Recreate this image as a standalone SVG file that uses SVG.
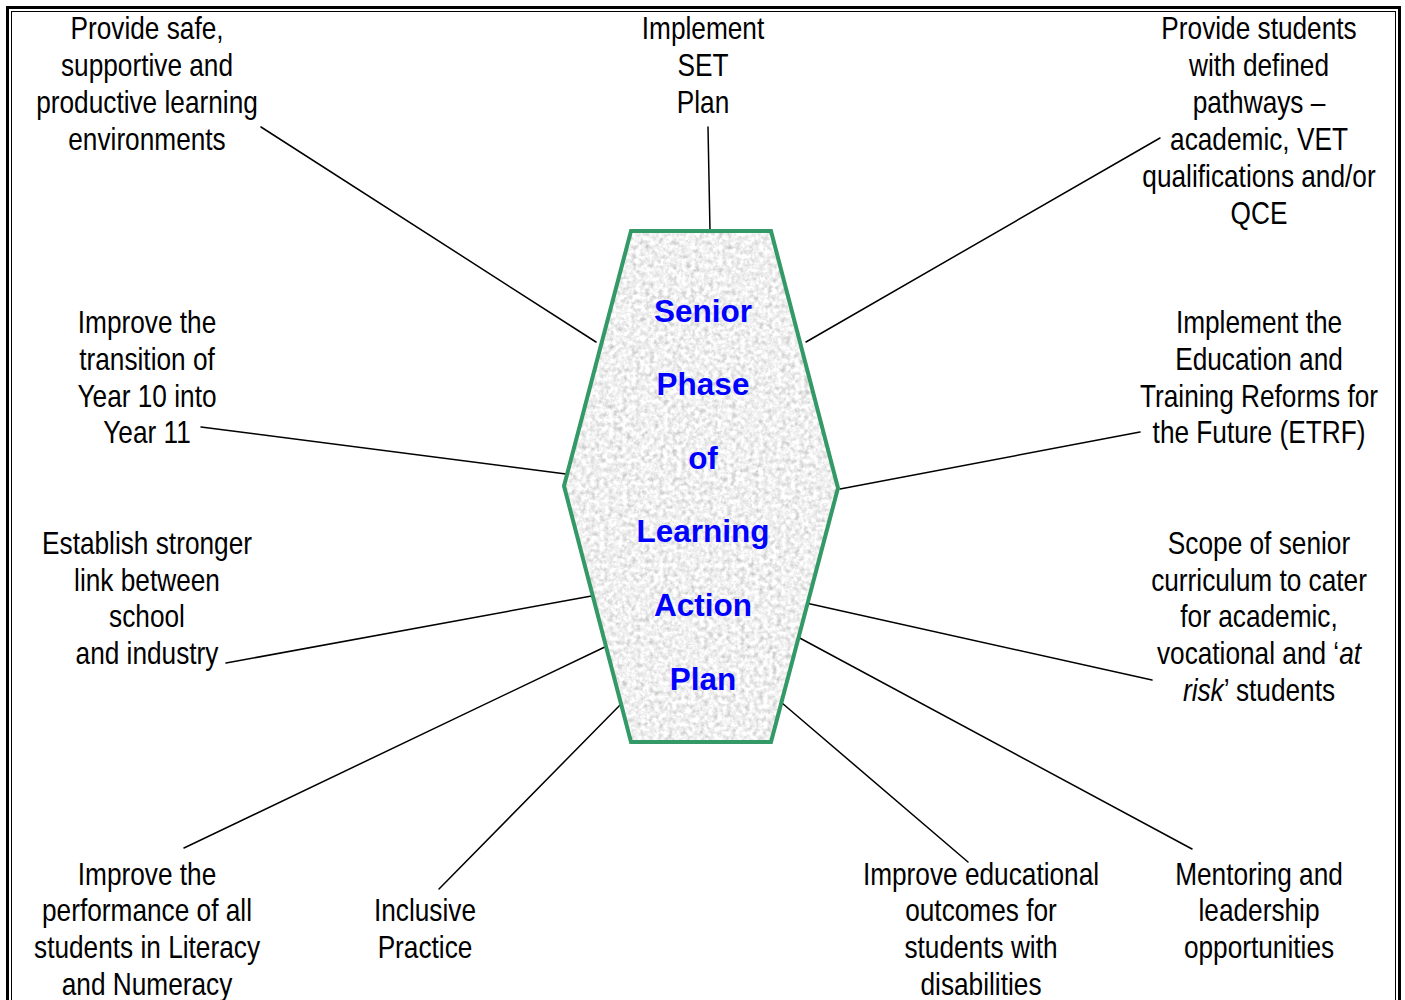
<svg xmlns="http://www.w3.org/2000/svg" width="1405" height="1000" viewBox="0 0 1405 1000">
  <style>
    .lbl { font-family: "Liberation Sans", Arial, sans-serif; font-size: 32px; fill: #000; text-anchor: middle; }
    .hub { font-family: "Liberation Sans", Arial, sans-serif; font-size: 31.5px; font-weight: bold; fill: #0000FF; text-anchor: middle; }
    .link { stroke: #000; stroke-width: 1.5; fill: none; stroke-linecap: round; }
    .frame-outer { fill: none; stroke: #000; stroke-width: 3; }
    .frame-inner { fill: none; stroke: #000; stroke-width: 1; }
    .it { font-style: italic; }
  </style>
  <defs>
    <!-- light grey granite texture for the central hexagon -->
    <filter id="granite" x="0" y="0" width="1" height="1" color-interpolation-filters="sRGB">
      <feTurbulence type="fractalNoise" baseFrequency="0.22" numOctaves="3" seed="7" result="noise"/>
      <feColorMatrix in="noise" type="matrix"
        values="0.28 0.28 0 0 0.66
                0.28 0.28 0 0 0.66
                0.28 0.28 0 0 0.66
                0 0 0 0 1" result="grey"/>
      <feComposite in="grey" in2="SourceGraphic" operator="in"/>
    </filter>
  </defs>

  <rect width="1405" height="1000" fill="#fff"/>

  <!-- double page frame -->
  <rect class="frame-outer" x="7.5" y="7.5" width="1392" height="1010"/>
  <rect class="frame-inner" x="11.5" y="11.5" width="1384" height="1000"/>

  <!-- connectors from the hub to each goal -->
  <g id="connectors">
    <line class="link" x1="261" y1="127" x2="596" y2="342"/>
    <line class="link" x1="708" y1="127" x2="710" y2="231"/>
    <line class="link" x1="1160" y1="138" x2="806" y2="342"/>
    <line class="link" x1="201" y1="427" x2="566" y2="474"/>
    <line class="link" x1="1140" y1="432" x2="840" y2="489"/>
    <line class="link" x1="226" y1="663" x2="597" y2="595"/>
    <line class="link" x1="806" y1="603" x2="1152" y2="680"/>
    <line class="link" x1="184" y1="848" x2="609" y2="645"/>
    <line class="link" x1="439" y1="889" x2="623" y2="702"/>
    <line class="link" x1="796" y1="636" x2="1192" y2="849"/>
    <line class="link" x1="782" y1="703" x2="968" y2="862"/>
  </g>

  <!-- central hexagon -->
  <g id="hub">
    <polygon points="631,231 771,231 838,488 771,742 631,742 564,486" fill="#fff" filter="url(#granite)"/>
    <polygon points="631,231 771,231 838,488 771,742 631,742 564,486" fill="none" stroke="#339966" stroke-width="4" stroke-linejoin="miter"/>
    <text class="hub" x="703" y="322">Senior</text>
    <text class="hub" x="703" y="395">Phase</text>
    <text class="hub" x="703" y="469">of</text>
    <text class="hub" x="703" y="542">Learning</text>
    <text class="hub" x="703" y="616">Action</text>
    <text class="hub" x="703" y="690">Plan</text>
  </g>

  <g id="safe-environments" transform="translate(147 0) scale(0.82 1)">
    <text class="lbl" x="0" y="39">Provide safe,</text>
    <text class="lbl" x="0" y="76">supportive and</text>
    <text class="lbl" x="0" y="113">productive learning</text>
    <text class="lbl" x="0" y="150">environments</text>
  </g>

  <g id="set-plan" transform="translate(703 0) scale(0.82 1)">
    <text class="lbl" x="0" y="39">Implement</text>
    <text class="lbl" x="0" y="76">SET</text>
    <text class="lbl" x="0" y="113">Plan</text>
  </g>

  <g id="pathways" transform="translate(1259 0) scale(0.82 1)">
    <text class="lbl" x="0" y="39">Provide students</text>
    <text class="lbl" x="0" y="76">with defined</text>
    <text class="lbl" x="0" y="113">pathways –</text>
    <text class="lbl" x="0" y="150">academic, VET</text>
    <text class="lbl" x="0" y="187">qualifications and/or</text>
    <text class="lbl" x="0" y="224">QCE</text>
  </g>

  <g id="transition" transform="translate(147 0) scale(0.82 1)">
    <text class="lbl" x="0" y="333">Improve the</text>
    <text class="lbl" x="0" y="370">transition of</text>
    <text class="lbl" x="0" y="407">Year 10 into</text>
    <text class="lbl" x="0" y="443">Year 11</text>
  </g>

  <g id="etrf" transform="translate(1259 0) scale(0.82 1)">
    <text class="lbl" x="0" y="333">Implement the</text>
    <text class="lbl" x="0" y="370">Education and</text>
    <text class="lbl" x="0" y="407">Training Reforms for</text>
    <text class="lbl" x="0" y="443">the Future (ETRF)</text>
  </g>

  <g id="industry-link" transform="translate(147 0) scale(0.82 1)">
    <text class="lbl" x="0" y="554">Establish stronger</text>
    <text class="lbl" x="0" y="591">link between</text>
    <text class="lbl" x="0" y="627">school</text>
    <text class="lbl" x="0" y="664">and industry</text>
  </g>

  <g id="curriculum-scope" transform="translate(1259 0) scale(0.82 1)">
    <text class="lbl" x="0" y="554">Scope of senior</text>
    <text class="lbl" x="0" y="591">curriculum to cater</text>
    <text class="lbl" x="0" y="627">for academic,</text>
    <text class="lbl" x="0" y="664">vocational and ‘<tspan class="it">at</tspan></text>
    <text class="lbl" x="0" y="701"><tspan class="it">risk</tspan>’ students</text>
  </g>

  <g id="literacy-numeracy" transform="translate(147 0) scale(0.82 1)">
    <text class="lbl" x="0" y="885">Improve the</text>
    <text class="lbl" x="0" y="921">performance of all</text>
    <text class="lbl" x="0" y="958">students in Literacy</text>
    <text class="lbl" x="0" y="995">and Numeracy</text>
  </g>

  <g id="inclusive-practice" transform="translate(425 0) scale(0.82 1)">
    <text class="lbl" x="0" y="921">Inclusive</text>
    <text class="lbl" x="0" y="958">Practice</text>
  </g>

  <g id="disabilities" transform="translate(981 0) scale(0.82 1)">
    <text class="lbl" x="0" y="885">Improve educational</text>
    <text class="lbl" x="0" y="921">outcomes for</text>
    <text class="lbl" x="0" y="958">students with</text>
    <text class="lbl" x="0" y="995">disabilities</text>
  </g>

  <g id="mentoring" transform="translate(1259 0) scale(0.82 1)">
    <text class="lbl" x="0" y="885">Mentoring and</text>
    <text class="lbl" x="0" y="921">leadership</text>
    <text class="lbl" x="0" y="958">opportunities</text>
  </g>
</svg>
